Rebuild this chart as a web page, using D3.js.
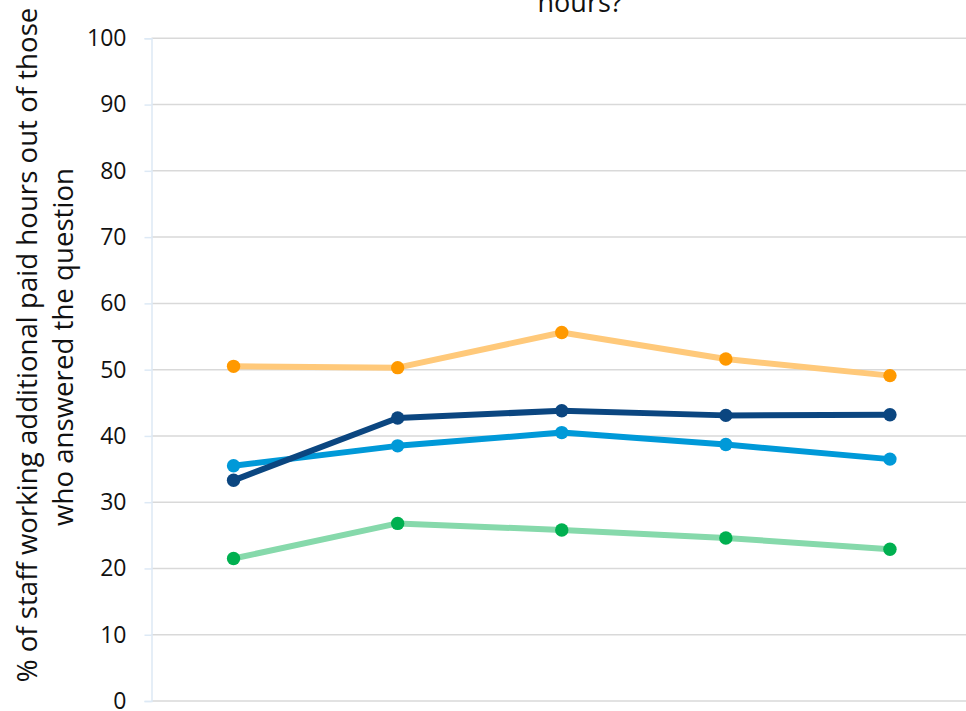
<!DOCTYPE html>
<html>
<head>
<meta charset="utf-8">
<script src="https://cdn.jsdelivr.net/npm/d3@7"></script>
<style>
  html, body { margin: 0; padding: 0; background: #ffffff; }
  svg { display: block; }
</style>
</head>
<body>
<svg id="chart" width="966" height="711"></svg>
<script>
// ---- data ----
const categories = ["Period 1", "Period 2", "Period 3", "Period 4", "Period 5"];
const yTicks = [0, 10, 20, 30, 40, 50, 60, 70, 80, 90, 100];
const seriesNames = ["Series A", "Series B", "Series C", "Series D"];
const seriesA = [50.5, 50.3, 55.6, 51.6, 49.1];   // orange
const seriesB = [35.5, 38.5, 40.5, 38.7, 36.5];   // light blue
const seriesC = [21.5, 26.8, 25.8, 24.6, 22.9];   // green
const seriesD = [33.3, 42.7, 43.8, 43.1, 43.2];   // navy
const lineColors = ["#FFC97A", "#0099D8", "#86D9AB", "#0B4680"];
const markerColors = ["#FF9900", "#0099D8", "#00B050", "#0B4680"];
const titleLastLine = "hours?";
const yTitleLines = ["% of staff working additional paid hours out of those", "who answered the question"];

(function () {
// ---- layout ----
const W = 966, H = 711;
const pLeft = 151.5, pRight = 972, pTop = 38.3, pBottom = 701;
const svg = d3.select("#chart");
const FONT = "'Open Sans', 'Noto Sans', sans-serif";

const x = d3.scaleBand().domain(categories).range([pLeft, pRight]).padding(0);
const y = d3.scaleLinear().domain([0, 100]).range([pBottom, pTop]);
const cx = c => x(c) + x.bandwidth() / 2;

// gridlines
svg.append("g").selectAll("line").data(yTicks).join("line")
  .attr("x1", pLeft).attr("x2", W)
  .attr("y1", d => y(d)).attr("y2", d => y(d))
  .attr("stroke", "#d9d9d9").attr("stroke-width", 1.5);

// y axis (ticks + labels)
const yAxis = d3.axisLeft(y).tickValues(yTicks).tickSize(7).tickPadding(18).tickFormat(d3.format("d"));
const gy = svg.append("g").attr("transform", `translate(${pLeft},0)`).call(yAxis);
gy.select(".domain").attr("stroke", "#dde9f5").attr("stroke-width", 1.5);
gy.selectAll(".tick line").attr("stroke", "#dde9f5").attr("stroke-width", 1.5);
gy.selectAll(".tick text")
  .attr("fill", "#111111")
  .style("font-family", FONT)
  .style("font-size", "23px");

// y title (two lines)
function fitText(sel, target) {
  const base = 20;
  sel.style("font-size", base + "px");
  const len = sel.node().getComputedTextLength();
  sel.style("font-size", (base * target / len) + "px");
}
const yt1 = svg.append("text")
  .attr("transform", "translate(37,345) rotate(-90)")
  .attr("text-anchor", "middle")
  .attr("fill", "#111111")
  .style("font-family", FONT)
  .text(yTitleLines[0]);
fitText(yt1, 675);
const yt2 = svg.append("text")
  .attr("transform", "translate(73,347) rotate(-90)")
  .attr("text-anchor", "middle")
  .attr("fill", "#111111")
  .style("font-family", FONT)
  .text(yTitleLines[1]);
yt2.style("font-size", yt1.style("font-size"));

// title (last visible line)
svg.append("text")
  .attr("x", 580).attr("y", 12)
  .attr("text-anchor", "middle")
  .attr("fill", "#111111")
  .style("font-family", FONT)
  .style("font-size", "27px")
  .text(titleLastLine);

// series
const allSeries = [seriesA, seriesB, seriesC, seriesD];
const line = d3.line().x((d, i) => cx(categories[i])).y(d => y(d));
allSeries.forEach((vals, k) => {
  const g = svg.append("g").attr("class", "series").attr("data-name", seriesNames[k]);
  g.append("path").datum(vals)
    .attr("d", line)
    .attr("fill", "none")
    .attr("stroke", lineColors[k])
    .attr("stroke-width", 6)
    .attr("stroke-linejoin", "round")
    .attr("stroke-linecap", "round");
  g.selectAll("circle").data(vals).join("circle")
    .attr("cx", (d, i) => cx(categories[i]))
    .attr("cy", d => y(d))
    .attr("r", 6.7)
    .attr("fill", markerColors[k]);
});
})();
</script>
</body>
</html>
